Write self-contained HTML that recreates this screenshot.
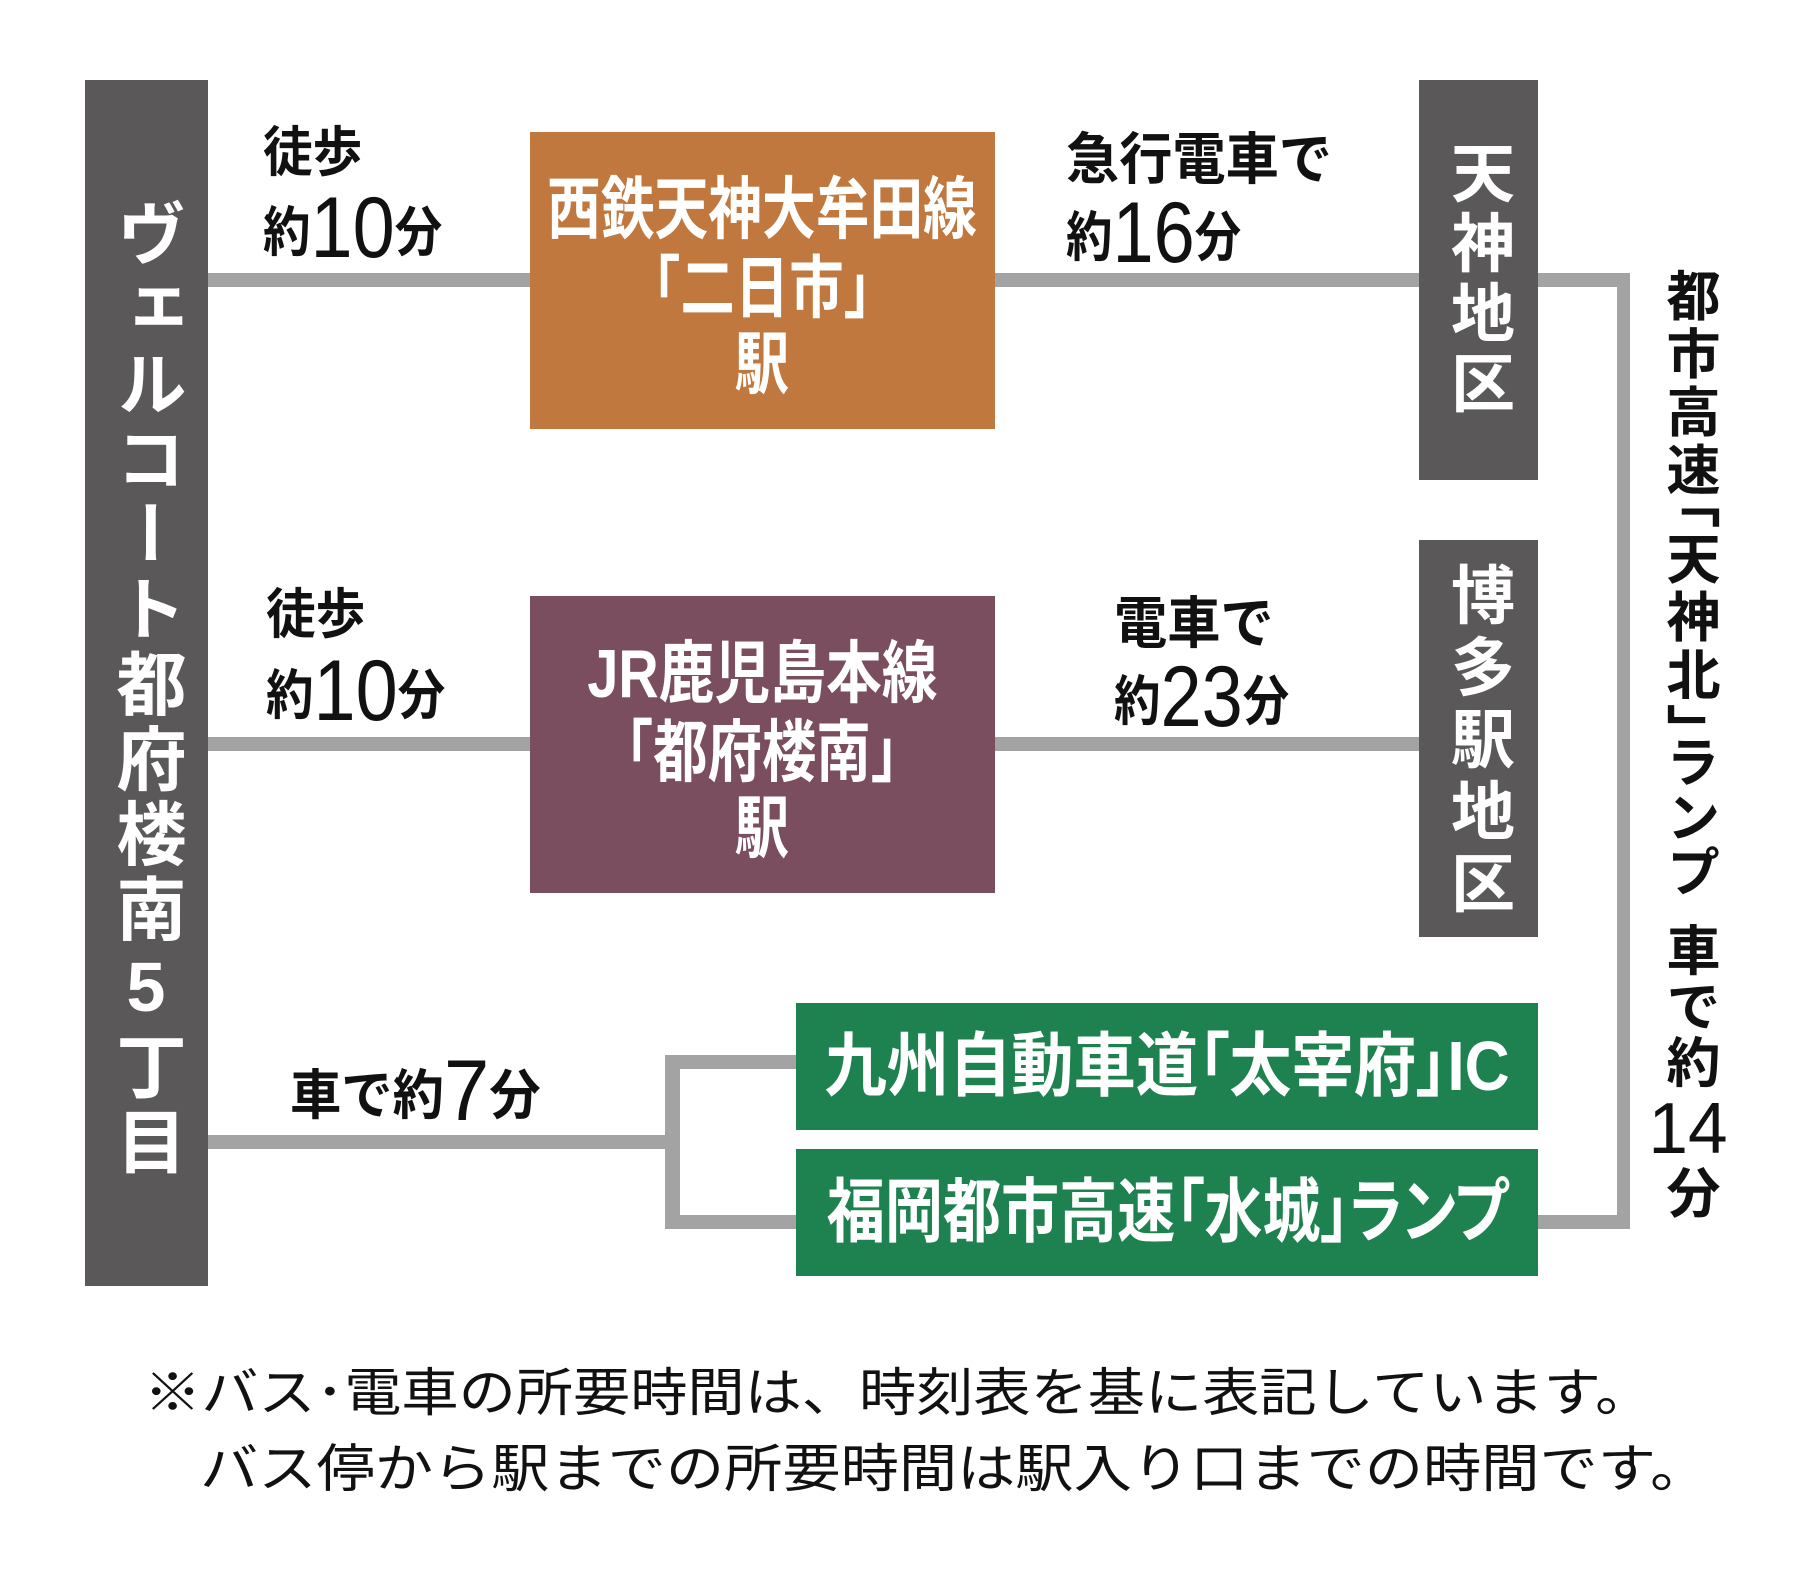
<!DOCTYPE html>
<html><head><meta charset="utf-8"><style>
html,body{margin:0;padding:0;background:#fff;}
body{width:1800px;height:1576px;position:relative;overflow:hidden;font-family:"Liberation Sans","Noto Sans CJK JP",sans-serif;}
.a{position:absolute;}
.ln{position:absolute;background:#a3a3a3;}
.box{position:absolute;color:#fff;}
.v{writing-mode:vertical-rl;text-orientation:upright;white-space:nowrap;}
.t{position:absolute;color:#111;font-weight:bold;white-space:nowrap;line-height:1;transform-origin:left top;}
.ct{position:absolute;left:-300px;width:calc(100% + 600px);text-align:center;color:#fff;white-space:nowrap;line-height:1;font-weight:bold;}
.sq{display:inline-block;transform:scaleX(.8);transform-origin:center;}
</style></head><body>
<!-- lines -->
<div class="ln" style="left:208px;top:273px;width:323px;height:14px"></div>
<div class="ln" style="left:995px;top:273px;width:424px;height:14px"></div>
<div class="ln" style="left:1538px;top:273px;width:92px;height:14px"></div>
<div class="ln" style="left:1617px;top:273px;width:13px;height:956px"></div>
<div class="ln" style="left:1538px;top:1215px;width:92px;height:14px"></div>
<div class="ln" style="left:208px;top:737px;width:323px;height:14px"></div>
<div class="ln" style="left:995px;top:737px;width:424px;height:14px"></div>
<div class="ln" style="left:208px;top:1135px;width:472px;height:14px"></div>
<div class="ln" style="left:665px;top:1055px;width:15px;height:174px"></div>
<div class="ln" style="left:665px;top:1055px;width:131px;height:14px"></div>
<div class="ln" style="left:665px;top:1215px;width:131px;height:14px"></div>

<!-- left bar -->
<div class="box" style="left:85px;top:80px;width:123px;height:1206px;background:#5a5859"></div>
<div class="a v" style="left:111px;top:198px;width:70px;font-size:70px;line-height:70px;letter-spacing:5px;color:#fff;font-weight:bold">ヴェルコート都府楼南5丁目</div>

<!-- orange -->
<div class="box" style="left:530px;top:132px;width:465px;height:297px;background:#c0783e;overflow:hidden">
  <div class="ct" style="top:44px;font-size:68px"><span class="sq" style="transform:scaleX(.79)">西鉄天神大牟田線</span></div>
  <div class="ct" style="top:123px;font-size:68px"><span class="sq">「二日市」</span></div>
  <div class="ct" style="top:199px;font-size:68px"><span class="sq">駅</span></div>
</div>
<!-- purple -->
<div class="box" style="left:530px;top:596px;width:465px;height:297px;background:#7a4d5f;overflow:hidden">
  <div class="ct" style="top:44px;font-size:68px"><span class="sq" style="transform:scaleX(.82)">JR鹿児島本線</span></div>
  <div class="ct" style="top:123px;font-size:68px"><span class="sq">「都府楼南」</span></div>
  <div class="ct" style="top:199px;font-size:68px"><span class="sq">駅</span></div>
</div>

<!-- Tenjin / Hakata -->
<div class="box" style="left:1419px;top:80px;width:119px;height:400px;background:#5a5859"></div>
<div class="a v" style="left:1445px;top:140px;width:66px;font-size:64px;line-height:66px;letter-spacing:6px;color:#fff;font-weight:bold">天神地区</div>
<div class="box" style="left:1419px;top:540px;width:119px;height:397px;background:#5a5859"></div>
<div class="a v" style="left:1445px;top:562px;width:66px;font-size:64px;line-height:66px;letter-spacing:8px;color:#fff;font-weight:bold">博多駅地区</div>

<!-- green -->
<div class="box" style="left:796px;top:1003px;width:742px;height:127px;background:#1e8250;overflow:hidden">
  <div class="ct" style="top:28px;font-size:70px"><span class="sq" style="transform:scaleX(.89);font-feature-settings:'palt'">九州自動車道「太宰府」IC</span></div>
</div>
<div class="box" style="left:796px;top:1149px;width:742px;height:127px;background:#1e8250;overflow:hidden">
  <div class="ct" style="top:28px;font-size:70px"><span class="sq" style="transform:scaleX(.83);font-feature-settings:'palt'">福岡都市高速「水城」ランプ</span></div>
</div>

<!-- right vertical label -->
<div class="a v" style="left:1662px;top:268px;width:52px;font-size:54px;line-height:52px;font-weight:bold;color:#111;font-feature-settings:'vpal';letter-spacing:4px">都市高速「天神北」ランプ<span style="display:inline-block;height:22px"></span>車で約<span style="text-combine-upright:all;font-size:72px;font-weight:normal">14</span>分</div>

<!-- labels -->
<div class="t" style="left:263px;top:126px;font-size:54px;transform:scaleX(.92)">徒歩</div>
<div class="t" style="left:263px;top:185px;font-size:54px;transform:scaleX(.88)">約<span style="font-size:86px;font-weight:normal;vertical-align:-6px">10</span>分</div>
<div class="t" style="left:266px;top:588px;font-size:54px;transform:scaleX(.92)">徒歩</div>
<div class="t" style="left:266px;top:648px;font-size:54px;transform:scaleX(.88)">約<span style="font-size:86px;font-weight:normal;vertical-align:-6px">10</span>分</div>
<div class="t" style="left:1066px;top:132px;font-size:56px;transform:scaleX(.95)">急行電車で</div>
<div class="t" style="left:1066px;top:190px;font-size:54px;transform:scaleX(.86)">約<span style="font-size:86px;font-weight:normal;vertical-align:-6px">16</span>分</div>
<div class="t" style="left:1114px;top:596px;font-size:56px;transform:scaleX(.95)">電車で</div>
<div class="t" style="left:1114px;top:654px;font-size:54px;transform:scaleX(.86)">約<span style="font-size:86px;font-weight:normal;vertical-align:-6px">23</span>分</div>
<div class="t" style="left:290px;top:1048px;font-size:54px;transform:scaleX(.95)">車で約<span style="font-size:86px;font-weight:normal;vertical-align:-6px">7</span>分</div>

<!-- footnote -->
<div class="t" style="left:144px;top:1368px;font-size:52px;font-weight:normal;transform:scaleX(1.1)">※バス･電車の所要時間は、時刻表を基に表記しています。</div>
<div class="t" style="left:200px;top:1444px;font-size:52px;font-weight:normal;transform:scaleX(1.12)">バス停から駅までの所要時間は駅入り口までの時間です。</div>
</body></html>
